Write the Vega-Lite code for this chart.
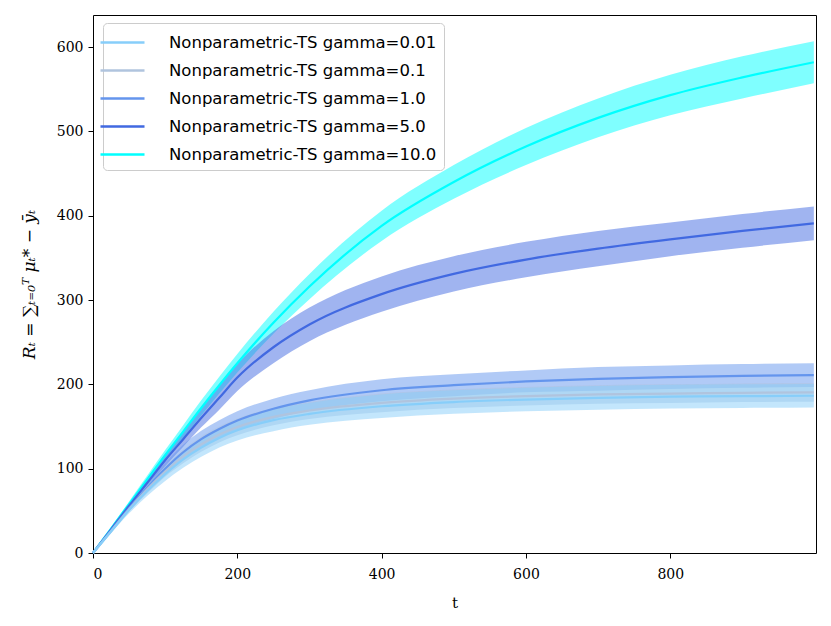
{
  "$schema": "https://vega.github.io/schema/vega-lite/v6.json",
  "autosize": {"type": "none"},
  "width": 723,
  "height": 538,
  "padding": {"left": 93, "top": 15, "right": 15, "bottom": 73},
  "background": "white",
  "config": {
    "view": {"stroke": "black", "strokeWidth": 1},
    "axis": {
      "grid": false,
      "domain": false,
      "tickColor": "black",
      "tickSize": 5,
      "labelFont": "DejaVu Serif",
      "labelFontSize": 14,
      "labelColor": "black",
      "titleFont": "DejaVu Serif",
      "titleFontWeight": "normal",
      "titleColor": "black",
      "titleFontSize": 15
    },
    "legend": {
      "labelFont": "DejaVu Sans",
      "labelFontSize": 16.5,
      "labelColor": "black",
      "labelLimit": 500
    }
  },
  "data": {
    "values": [
      {"g": "10.0", "t": 0, "m": 0, "lo": 0, "hi": 0},
      {"g": "10.0", "t": 25, "m": 29, "lo": 27.5, "hi": 30.5},
      {"g": "10.0", "t": 50, "m": 58, "lo": 55, "hi": 61},
      {"g": "10.0", "t": 75, "m": 87, "lo": 82.5, "hi": 91.5},
      {"g": "10.0", "t": 100, "m": 116, "lo": 110, "hi": 122},
      {"g": "10.0", "t": 125, "m": 144, "lo": 136.5, "hi": 151.5},
      {"g": "10.0", "t": 150, "m": 172, "lo": 163, "hi": 181},
      {"g": "10.0", "t": 175, "m": 199, "lo": 189, "hi": 209},
      {"g": "10.0", "t": 200, "m": 225, "lo": 214, "hi": 236},
      {"g": "10.0", "t": 250, "m": 273, "lo": 260, "hi": 286},
      {"g": "10.0", "t": 300, "m": 316, "lo": 301, "hi": 331},
      {"g": "10.0", "t": 400, "m": 388, "lo": 370, "hi": 406},
      {"g": "10.0", "t": 500, "m": 440, "lo": 420, "hi": 460},
      {"g": "10.0", "t": 600, "m": 482, "lo": 460, "hi": 504},
      {"g": "10.0", "t": 700, "m": 516, "lo": 493, "hi": 539},
      {"g": "10.0", "t": 800, "m": 543, "lo": 519, "hi": 567},
      {"g": "10.0", "t": 900, "m": 564, "lo": 539, "hi": 589},
      {"g": "10.0", "t": 999, "m": 582, "lo": 557, "hi": 607},

      {"g": "5.0", "t": 0, "m": 0, "lo": 0, "hi": 0},
      {"g": "5.0", "t": 25, "m": 28, "lo": 26.5, "hi": 29.5},
      {"g": "5.0", "t": 50, "m": 56, "lo": 53, "hi": 59},
      {"g": "5.0", "t": 75, "m": 83, "lo": 78, "hi": 88},
      {"g": "5.0", "t": 100, "m": 110, "lo": 103, "hi": 117},
      {"g": "5.0", "t": 125, "m": 135, "lo": 126, "hi": 144},
      {"g": "5.0", "t": 150, "m": 160, "lo": 149, "hi": 171},
      {"g": "5.0", "t": 175, "m": 184, "lo": 170, "hi": 198},
      {"g": "5.0", "t": 200, "m": 208, "lo": 192, "hi": 224},
      {"g": "5.0", "t": 250, "m": 244, "lo": 225, "hi": 263},
      {"g": "5.0", "t": 300, "m": 271, "lo": 251, "hi": 291},
      {"g": "5.0", "t": 400, "m": 307, "lo": 286, "hi": 328},
      {"g": "5.0", "t": 500, "m": 331, "lo": 310, "hi": 352},
      {"g": "5.0", "t": 600, "m": 348, "lo": 327, "hi": 369},
      {"g": "5.0", "t": 700, "m": 361, "lo": 340, "hi": 382},
      {"g": "5.0", "t": 800, "m": 372, "lo": 352, "hi": 392},
      {"g": "5.0", "t": 900, "m": 382, "lo": 362, "hi": 402},
      {"g": "5.0", "t": 999, "m": 391, "lo": 371, "hi": 411},

      {"g": "1.0", "t": 0, "m": 0, "lo": 0, "hi": 0},
      {"g": "1.0", "t": 25, "m": 26.5, "lo": 24.5, "hi": 28.5},
      {"g": "1.0", "t": 50, "m": 53, "lo": 50, "hi": 56},
      {"g": "1.0", "t": 75, "m": 77.5, "lo": 72.5, "hi": 82.5},
      {"g": "1.0", "t": 100, "m": 100, "lo": 93, "hi": 107},
      {"g": "1.0", "t": 125, "m": 119.5, "lo": 110.5, "hi": 128.5},
      {"g": "1.0", "t": 150, "m": 135, "lo": 125, "hi": 145},
      {"g": "1.0", "t": 175, "m": 147, "lo": 136.5, "hi": 157.5},
      {"g": "1.0", "t": 200, "m": 157, "lo": 146, "hi": 168},
      {"g": "1.0", "t": 250, "m": 171, "lo": 159, "hi": 183},
      {"g": "1.0", "t": 300, "m": 181, "lo": 169, "hi": 193},
      {"g": "1.0", "t": 400, "m": 193, "lo": 180, "hi": 206},
      {"g": "1.0", "t": 500, "m": 199, "lo": 186, "hi": 212},
      {"g": "1.0", "t": 600, "m": 203.5, "lo": 190.5, "hi": 216.5},
      {"g": "1.0", "t": 700, "m": 206.5, "lo": 192.5, "hi": 220.5},
      {"g": "1.0", "t": 800, "m": 208.5, "lo": 194.5, "hi": 222.5},
      {"g": "1.0", "t": 900, "m": 210, "lo": 196, "hi": 224},
      {"g": "1.0", "t": 999, "m": 211, "lo": 197, "hi": 225},

      {"g": "0.1", "t": 0, "m": 0, "lo": 0, "hi": 0},
      {"g": "0.1", "t": 25, "m": 26, "lo": 24, "hi": 28},
      {"g": "0.1", "t": 50, "m": 52, "lo": 49, "hi": 55},
      {"g": "0.1", "t": 75, "m": 75.5, "lo": 70.5, "hi": 80.5},
      {"g": "0.1", "t": 100, "m": 96.5, "lo": 90.5, "hi": 102.5},
      {"g": "0.1", "t": 125, "m": 114.5, "lo": 106.5, "hi": 122.5},
      {"g": "0.1", "t": 150, "m": 129, "lo": 120, "hi": 138},
      {"g": "0.1", "t": 175, "m": 140.5, "lo": 131, "hi": 150},
      {"g": "0.1", "t": 200, "m": 149.5, "lo": 139.5, "hi": 159.5},
      {"g": "0.1", "t": 250, "m": 161.5, "lo": 151.5, "hi": 171.5},
      {"g": "0.1", "t": 300, "m": 169, "lo": 159, "hi": 179},
      {"g": "0.1", "t": 400, "m": 178, "lo": 167, "hi": 189},
      {"g": "0.1", "t": 500, "m": 183, "lo": 172, "hi": 194},
      {"g": "0.1", "t": 600, "m": 186, "lo": 175, "hi": 197},
      {"g": "0.1", "t": 700, "m": 188, "lo": 177, "hi": 199},
      {"g": "0.1", "t": 800, "m": 189, "lo": 178, "hi": 200},
      {"g": "0.1", "t": 900, "m": 190, "lo": 179, "hi": 201},
      {"g": "0.1", "t": 999, "m": 190.5, "lo": 179.5, "hi": 201.5},

      {"g": "0.01", "t": 0, "m": 0, "lo": 0, "hi": 0},
      {"g": "0.01", "t": 25, "m": 25.5, "lo": 23.5, "hi": 27.5},
      {"g": "0.01", "t": 50, "m": 51, "lo": 47, "hi": 55},
      {"g": "0.01", "t": 75, "m": 73.5, "lo": 67.5, "hi": 79.5},
      {"g": "0.01", "t": 100, "m": 93.5, "lo": 85.5, "hi": 101.5},
      {"g": "0.01", "t": 125, "m": 111, "lo": 101, "hi": 121},
      {"g": "0.01", "t": 150, "m": 125, "lo": 114, "hi": 136},
      {"g": "0.01", "t": 175, "m": 136.5, "lo": 125, "hi": 148},
      {"g": "0.01", "t": 200, "m": 145.5, "lo": 133.5, "hi": 157.5},
      {"g": "0.01", "t": 250, "m": 157.5, "lo": 144.5, "hi": 170.5},
      {"g": "0.01", "t": 300, "m": 165, "lo": 152, "hi": 178},
      {"g": "0.01", "t": 400, "m": 174, "lo": 160, "hi": 188},
      {"g": "0.01", "t": 500, "m": 179, "lo": 165, "hi": 193},
      {"g": "0.01", "t": 600, "m": 182, "lo": 168, "hi": 196},
      {"g": "0.01", "t": 700, "m": 184, "lo": 170, "hi": 198},
      {"g": "0.01", "t": 800, "m": 185.5, "lo": 171.5, "hi": 199.5},
      {"g": "0.01", "t": 900, "m": 186, "lo": 172, "hi": 200},
      {"g": "0.01", "t": 999, "m": 186.5, "lo": 172.5, "hi": 200.5}
    ]
  },
  "encoding": {
    "x": {
      "field": "t",
      "type": "quantitative",
      "title": "t",
      "scale": {"domain": [0, 1002], "nice": false, "zero": false},
      "axis": {"values": [0, 200, 400, 600, 800], "titlePadding": 14, "labelPadding": 9}
    },
    "y": {
      "field": "m",
      "type": "quantitative",
      "title": "Rₜ = ∑ₜ₌₀ᵀ μₜ* − ȳₜ",
      "scale": {"domain": [0, 638], "nice": false},
      "axis": {"values": [0, 100, 200, 300, 400, 500, 600], "titlePadding": 18, "titleFontStyle": "italic", "titleFontSize": 17, "labelPadding": 5}
    },
    "color": {
      "field": "g",
      "type": "nominal",
      "scale": {
        "domain": ["0.01", "0.1", "1.0", "5.0", "10.0"],
        "range": ["#87CEFA", "#B0C4DE", "#6495ED", "#4169E1", "#00FFFF"]
      },
      "legend": {
        "title": null,
        "orient": "none",
        "legendX": 10,
        "legendY": 8,
        "symbolType": "M-2,0L2,0",
        "symbolSize": 484,
        "symbolStrokeWidth": 2.5,
        "symbolOpacity": 1,
        "labelOffset": 34,
        "rowPadding": 7,
        "padding": 7,
        "strokeColor": "#cccccc",
        "fillColor": "white",
        "cornerRadius": 4,
        "labelExpr": "'Nonparametric-TS gamma=' + datum.label"
      }
    }
  },
  "layer": [
    {
      "mark": {"type": "area", "opacity": 0.5, "interpolate": "monotone"},
      "encoding": {
        "y": {"field": "lo", "type": "quantitative"},
        "y2": {"field": "hi"}
      }
    },
    {
      "mark": {"type": "line", "strokeWidth": 2.2, "interpolate": "monotone"},
      "encoding": {}
    }
  ]
}
